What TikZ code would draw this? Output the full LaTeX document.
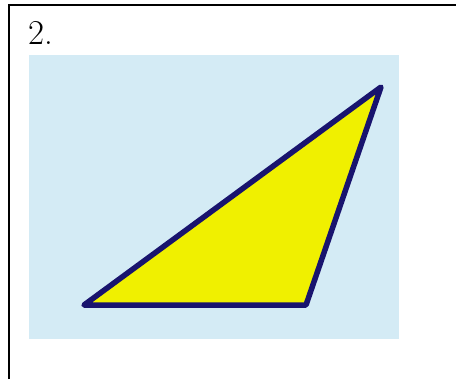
\documentclass[tikz,border=0pt]{standalone}
\usepackage{fontspec}
\usepackage{xcolor}
\usetikzlibrary{positioning}
\definecolor{skyback}{RGB}{212,235,245}
\definecolor{triyellow}{RGB}{240,240,0}
\definecolor{deepnavy}{RGB}{25,20,110}

\begin{document}
\begin{tikzpicture}[
  x=1bp, y=-1bp,
  frame/.style={draw=black, line width=1.6bp},
  panel/.style={fill=skyback},
  tri/.style={draw=deepnavy, fill=triyellow, line width=5.5bp, line join=round},
  numlabel/.style={anchor=base west, inner sep=0pt, font=\fontsize{35}{42}\selectfont},
]
  \useasboundingbox (0,0) rectangle (456,379);
  \draw[frame] (9,379) -- (9,5) -- (456,5);
  \node[numlabel] (num) at (28,44) {2.};

  \fill[panel] (29,55) rectangle (399,339);

  \coordinate (A) at (84,305);
  \coordinate (B) at (306,305);
  \coordinate (C) at (381,87);
  \draw[tri] (A) -- (B) -- (C) -- cycle;
\end{tikzpicture}
\end{document}
